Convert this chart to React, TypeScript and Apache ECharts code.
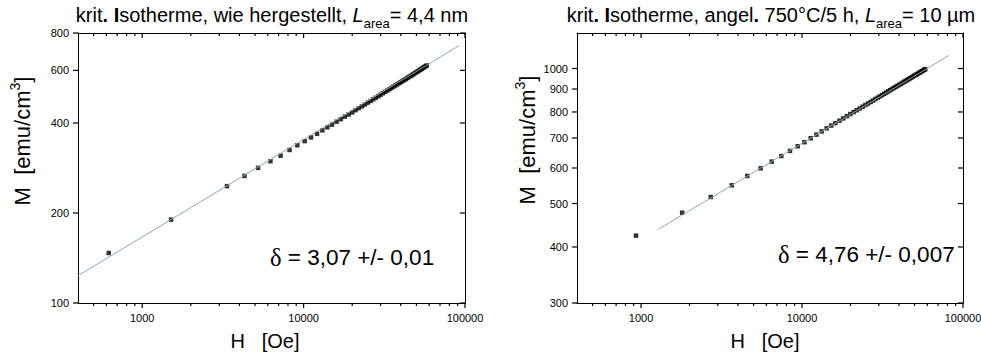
import React, { useEffect, useRef } from 'react';
import * as echarts from 'echarts';

// ---- data (H in Oe, M in emu/cm^3) ----
const leftH = [620, 1510, 3350, 4300, 5220, 6230, 7200, 8180, 9140, 10150, 11110, 12110, 13070, 14030, 15000, 16000, 17000, 18000, 19000, 20000, 21000, 22000, 23000, 24000, 25000, 26000, 27000, 28000, 29000, 30000, 31000, 32000, 33000, 34000, 35000, 36000, 37000, 38000, 39000, 40000, 41000, 42000, 43000, 44000, 45000, 46000, 47000, 48000, 49000, 50000, 51000, 52000, 53000, 54000, 55000, 56000, 57000, 58000];
const leftM = [147, 190, 246, 266, 283, 298, 311, 325, 337, 348, 358, 368, 378, 387, 395, 404, 412, 420, 427, 434, 441.5, 448.5, 455, 461.5, 468, 474, 480, 486, 491.5, 497.5, 503, 508.5, 513.5, 519, 524, 529, 534, 538.5, 543.5, 548, 552.5, 557, 561.5, 566, 570.5, 574.5, 579, 583, 587.5, 591.5, 595.5, 599.5, 603.5, 607.5, 611.5, 615.5, 619.5, 623];
const leftFitH = [400, 92000];
const leftFitM = [123.4, 726];

const rightH = [930, 1800, 2710, 3660, 4570, 5530, 6480, 7440, 8420, 9400, 10340, 11320, 12280, 13250, 14210, 15170, 16120, 17080, 18040, 19000, 19960, 20920, 21870, 22830, 23790, 24750, 25710, 26670, 27620, 28580, 29540, 30500, 31460, 32420, 33370, 34330, 35290, 36250, 37210, 38170, 39120, 40080, 41040, 42000, 42960, 43920, 44870, 45830, 46790, 47750, 48710, 49670, 50620, 51580, 52540, 53500, 54460, 55420, 56370, 57330, 58290];
const rightM = [424, 477, 517, 549, 576, 599, 620, 638, 655, 671, 685, 699, 712, 724, 735.5, 746, 755.5, 765, 774, 783, 791.5, 799.5, 807, 814.5, 822, 829, 835.5, 842, 848.5, 855, 861, 867, 872.5, 878.5, 884, 889.5, 894.5, 900, 905, 910, 914.5, 919.5, 924, 928.5, 933.5, 937.5, 942, 946.5, 950.5, 954.5, 959, 963, 967, 970.5, 974.5, 978.5, 982, 986, 989.5, 993, 996.5];
const rightFitH = [1280, 82000];
const rightFitM = [438, 1070];

// ---- axes ----
const xRange = [400, 100000];
const xMajorTicks = [1000, 10000, 100000];
const xMinorTicks = [500, 600, 700, 800, 900, 2000, 3000, 4000, 5000, 6000, 7000, 8000, 9000, 20000, 30000, 40000, 50000, 60000, 70000, 80000, 90000];
const leftYRange = [100, 800];
const leftYTicks = [100, 200, 400, 600, 800];
const rightYRange = [300, 1200];
const rightYTicks = [300, 400, 500, 600, 700, 800, 900, 1000];

const leftTitle = 'krit{b|. I}sotherme, wie hergestellt, {i|L}{s|area}= 4,4 nm';
const rightTitle = 'krit{b|. I}sotherme, angel{b|.} 750°C/5 h, {i|L}{s|area}= 10 µm';
const leftDelta = '{d|δ} = 3,07 +/- 0,01';
const rightDelta = '{d|δ} = 4,76 +/- 0,007';
const yName = 'M  [emu/cm{sup|3}]';
const xName = 'H   [Oe]';

const FONT = 'Liberation Sans, Arial, Helvetica, sans-serif';
const lg = (v: number) => Math.log10(v);
const fmt = (v: number) => String(Math.round(Math.pow(10, v)));
const FIT_COLOR = '#8aa8a5';
const MAJOR_LEN = 5;
const MINOR_LEN = 3;
const TICK_W = 1.2;

function xAxes(g: number) {
  const base = { type: 'value', gridIndex: g, min: lg(xRange[0]), max: lg(xRange[1]), splitLine: { show: false }, axisTick: { show: false } };
  return [
    {
      ...base, position: 'bottom',
      axisLine: { show: true, onZero: false, lineStyle: { color: '#000', width: 1 } },
      axisLabel: { show: true, customValues: xMajorTicks.map(lg), formatter: fmt, color: '#000', fontSize: 11, fontFamily: FONT, margin: 9 },
    },
    {
      ...base, position: 'top',
      axisLine: { show: true, onZero: false, lineStyle: { color: '#000', width: 1 } },
      axisLabel: { show: false },
    },
  ];
}

function yAxes(g: number, range: number[], ticks: number[]) {
  const base = { type: 'value', gridIndex: g, min: lg(range[0]), max: lg(range[1]), splitLine: { show: false }, axisTick: { show: false } };
  return [
    {
      ...base, position: 'left',
      axisLine: { show: true, onZero: false, lineStyle: { color: '#000', width: 1 } },
      axisLabel: { show: true, customValues: ticks.map(lg), formatter: fmt, color: '#000', fontSize: 11, fontFamily: FONT, margin: 9 },
    },
    {
      ...base, position: 'right',
      axisLine: { show: true, onZero: false, lineStyle: { color: '#000', width: 1 } },
      axisLabel: { show: false },
    },
  ];
}

function pairs(h: number[], m: number[]) {
  return h.map((v, i) => [lg(v), lg(m[i])]);
}

// tick marks drawn as thin rect symbols placed through the axis scales
function tickScatter(xi: number, yi: number, data: number[][], size: number[], offset: number[]) {
  return {
    type: 'scatter', xAxisIndex: xi, yAxisIndex: yi, silent: true, clip: false, z: 6,
    data, symbol: 'rect', symbolSize: size, symbolOffset: offset,
    itemStyle: { color: '#000', opacity: 1 },
    emphasis: { disabled: true },
  };
}

function panelTicks(xi: number, yi: number, yRange: number[], yTicks: number[]) {
  const yMinL = lg(yRange[0]);
  const yMaxL = lg(yRange[1]);
  const xMinL = lg(xRange[0]);
  const xMaxL = lg(xRange[1]);
  return [
    // bottom, outward
    tickScatter(xi, yi, xMajorTicks.map((v) => [lg(v), yMinL]), [TICK_W, MAJOR_LEN], [0, MAJOR_LEN / 2]),
    tickScatter(xi, yi, xMinorTicks.map((v) => [lg(v), yMinL]), [TICK_W, MINOR_LEN], [0, MINOR_LEN / 2]),
    // top, inward
    tickScatter(xi, yi, xMajorTicks.map((v) => [lg(v), yMaxL]), [TICK_W, MAJOR_LEN], [0, MAJOR_LEN / 2]),
    tickScatter(xi, yi, xMinorTicks.map((v) => [lg(v), yMaxL]), [TICK_W, MINOR_LEN], [0, MINOR_LEN / 2]),
    // left, outward
    tickScatter(xi, yi, yTicks.map((v) => [xMinL, lg(v)]), [MAJOR_LEN, TICK_W], [-MAJOR_LEN / 2, 0]),
    // right, inward
    tickScatter(xi, yi, yTicks.map((v) => [xMaxL, lg(v)]), [MAJOR_LEN, TICK_W], [-MAJOR_LEN / 2, 0]),
  ];
}

function titleEl(text: string, x: number) {
  return {
    type: 'text', x, y: 15,
    style: {
      text, fill: '#000', fontSize: 20, fontFamily: FONT, lineHeight: 30,
      align: 'center', verticalAlign: 'middle', textAlign: 'center', textVerticalAlign: 'middle',
      rich: {
        b: { fontSize: 20, fontFamily: FONT, fontWeight: 'bold', lineHeight: 30 },
        i: { fontSize: 20, fontFamily: FONT, fontStyle: 'italic', lineHeight: 30 },
        s: { fontSize: 13, fontFamily: FONT, lineHeight: 30, verticalAlign: 'bottom' },
      },
    },
  };
}

function deltaEl(text: string, x: number, y: number) {
  return {
    type: 'text', x, y,
    style: {
      text, fill: '#000', fontSize: 22.5, fontFamily: FONT,
      align: 'left', verticalAlign: 'middle', textAlign: 'left', textVerticalAlign: 'middle',
      rich: { d: { fontSize: 24.5, fontFamily: 'Liberation Serif, Times New Roman, serif' } },
    },
  };
}

function yNameEl(x: number, y: number) {
  return {
    type: 'text', x, y, rotation: Math.PI / 2,
    style: {
      text: yName, fill: '#000', fontSize: 22, fontFamily: FONT, lineHeight: 28,
      align: 'center', verticalAlign: 'middle', textAlign: 'center', textVerticalAlign: 'middle',
      rich: {
        sup: { fontSize: 14, fontFamily: FONT, lineHeight: 28, verticalAlign: 'top' },
      },
    },
  };
}

function xNameEl(x: number, y: number) {
  return {
    type: 'text', x, y,
    style: {
      text: xName, fill: '#000', fontSize: 20, fontFamily: FONT,
      align: 'center', verticalAlign: 'middle', textAlign: 'center', textVerticalAlign: 'middle',
    },
  };
}

export default function App() {
  const ref = useRef<HTMLDivElement>(null);
  useEffect(() => {
    document.body.style.margin = '0';
    if (!ref.current) return;
    const chart = echarts.init(ref.current, undefined, { renderer: 'svg' });
    const option: any = {
      animation: false,
      backgroundColor: '#fff',
      grid: [
        { left: 78, top: 33, width: 387, height: 270, outerBoundsMode: 'none', containLabel: false },
        { left: 577, top: 33, width: 386, height: 270, outerBoundsMode: 'none', containLabel: false },
      ],
      xAxis: [...xAxes(0), ...xAxes(1)],
      yAxis: [...yAxes(0, leftYRange, leftYTicks), ...yAxes(1, rightYRange, rightYTicks)],
      series: [
        {
          type: 'scatter', xAxisIndex: 0, yAxisIndex: 0, data: pairs(leftH, leftM),
          symbol: 'rect', symbolSize: 4.5, itemStyle: { color: '#000' }, z: 2, silent: true,
        },
        {
          type: 'line', xAxisIndex: 0, yAxisIndex: 0, data: pairs(leftFitH, leftFitM),
          symbol: 'none', lineStyle: { color: FIT_COLOR, width: 1 }, z: 3, silent: true,
        },
        {
          type: 'scatter', xAxisIndex: 2, yAxisIndex: 2, data: pairs(rightH, rightM),
          symbol: 'rect', symbolSize: 4.5, itemStyle: { color: '#000' }, z: 2, silent: true,
        },
        {
          type: 'line', xAxisIndex: 2, yAxisIndex: 2, data: pairs(rightFitH, rightFitM),
          symbol: 'none', lineStyle: { color: FIT_COLOR, width: 1 }, z: 3, silent: true,
        },
        ...panelTicks(0, 0, leftYRange, leftYTicks),
        ...panelTicks(2, 2, rightYRange, rightYTicks),
      ],
      graphic: [
        titleEl(leftTitle, 272),
        titleEl(rightTitle, 771),
        deltaEl(leftDelta, 270, 257),
        deltaEl(rightDelta, 778, 254),
        yNameEl(22, 141),
        yNameEl(527, 140),
        xNameEl(265, 341),
        xNameEl(765, 341),
      ],
    };
    chart.setOption(option);
    return () => chart.dispose();
  }, []);
  return <div ref={ref} style={{ position: 'absolute', left: 0, top: 0, width: 981, height: 354 }} />;
}
